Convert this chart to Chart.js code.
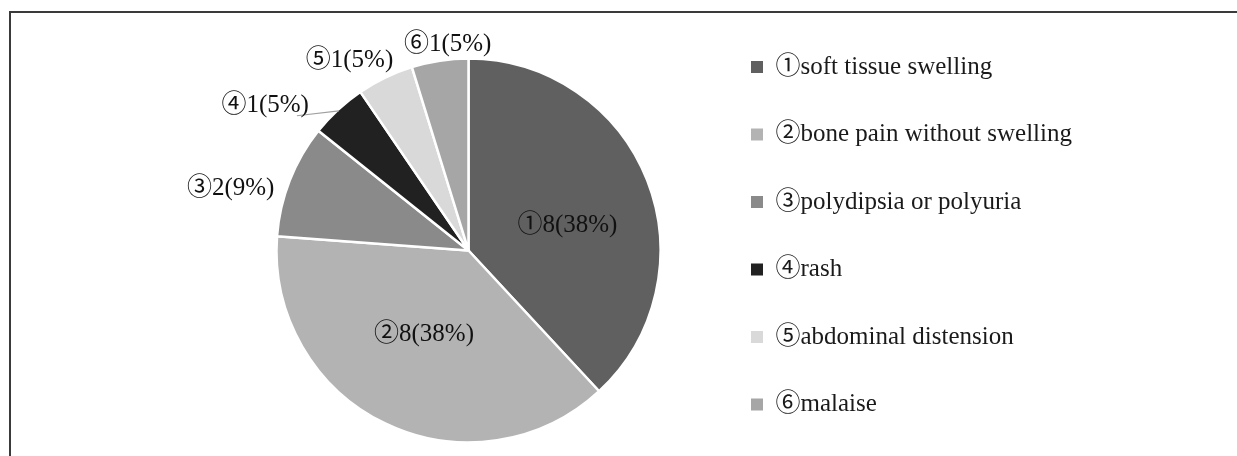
<!DOCTYPE html>
<html><head><meta charset="utf-8">
<script src="https://cdn.jsdelivr.net/npm/chart.js@4.4.0/dist/chart.umd.min.js"></script>
<style>
html,body{margin:0;padding:0;background:#fff;overflow:hidden;width:1237px;height:456px;}
#frame{position:absolute;left:9px;top:11px;width:1300px;height:520px;border-left:2px solid #3a3a3a;border-top:2px solid #3a3a3a;box-sizing:border-box;}
#wrap{position:absolute;left:0;top:0;width:1237px;height:489px;}
</style></head><body>
<div id="frame"></div>
<div id="wrap"><canvas id="c"></canvas></div>
<script>
// ---- data ----
const markers = ['①','②','③','④','⑤','⑥'];
const categories = ['soft tissue swelling','bone pain without swelling','polydipsia or polyuria','rash','abdominal distension','malaise'];
const counts = [8, 8, 2, 1, 1, 1];
const percents = [38, 38, 9, 5, 5, 5];

// ---- styles ----
const sliceColors = ['#606060','#b3b3b3','#8a8a8a','#212121','#d9d9d9','#a6a6a6'];
const FONT_FAMILY = '"Liberation Serif", "Noto Sans CJK SC", serif';
const FONT_SIZE = 25;
const LEGEND_PAD = 42.5;
const BOX = 12;

const legendLabels = categories.map((c, i) => markers[i] + c);
const dataLabels = counts.map((v, i) => markers[i] + v + '(' + percents[i] + '%)');

// label placement relative to each slice (radius factor, angle offset in degrees)
const placement = [
  {r: 0.532, a: 7.0},
  {r: 0.497, a: 2.1},
  {r: 1.281, a: -6.7},
  {r: 1.300, a: -11.7, leader: true},
  {r: 1.166, a: -6.4},
  {r: 1.081, a: 2.8}
];

// measure legend text to position the legend box
const mctx = document.createElement('canvas').getContext('2d');
mctx.font = FONT_SIZE + 'px ' + FONT_FAMILY;
const maxTextW = Math.max(...legendLabels.map(t => mctx.measureText(t).width));
const legendW = LEGEND_PAD + BOX + FONT_SIZE / 2 + maxTextW + 10;
const legendLeft = 708.5;
const padRight = 1237 - legendLeft - legendW;
const centerX = 468.5;
const padLeft = 2 * centerX - legendLeft;

const labelPlugin = {
  id: 'sliceLabels',
  afterDatasetsDraw(chart) {
    const ctx = chart.ctx;
    const meta = chart.getDatasetMeta(0);
    ctx.save();
    ctx.font = FONT_SIZE + 'px ' + FONT_FAMILY;
    ctx.fillStyle = '#111';
    ctx.textAlign = 'center';
    ctx.textBaseline = 'middle';
    meta.data.forEach((arc, i) => {
      const p = arc.getProps(['x','y','startAngle','endAngle','outerRadius'], true);
      const pl = placement[i];
      const midTrue = (p.startAngle + p.endAngle) / 2;
      const mid = midTrue + pl.a * Math.PI / 180;
      const r = p.outerRadius * pl.r;
      const lx = p.x + Math.cos(mid) * r;
      const ly = p.y + Math.sin(mid) * r;
      const txt = dataLabels[i];
      const w = ctx.measureText(txt).width;
      if (pl.leader) {
        const vr = p.outerRadius - 1.5;
        ctx.beginPath();
        ctx.strokeStyle = '#a0a0a0';
        ctx.lineWidth = 1.2;
        ctx.moveTo(p.x + Math.cos(midTrue) * vr, p.y + Math.sin(midTrue) * vr);
        ctx.lineTo(lx + w / 2 - 12, ly + 10);
        ctx.stroke();
      }
      ctx.fillText(txt, lx, ly);
    });
    ctx.restore();
  }
};

new Chart(document.getElementById('c'), {
  type: 'pie',
  data: {
    labels: legendLabels,
    datasets: [{
      data: counts,
      backgroundColor: sliceColors,
      borderColor: '#ffffff',
      borderWidth: 2.5
    }]
  },
  options: {
    responsive: true,
    maintainAspectRatio: false,
    animation: false,
    events: [],
    radius: 192,
    layout: {padding: {left: padLeft, right: padRight, top: 12, bottom: 0}},
    plugins: {
      tooltip: {enabled: false},
      legend: {
        position: 'right',
        align: 'start',
        labels: {
          boxWidth: BOX,
          boxHeight: BOX,
          padding: LEGEND_PAD,
          color: '#1a1a1a',
          font: {family: FONT_FAMILY, size: FONT_SIZE},
          generateLabels(chart) {
            const items = Chart.controllers.pie.overrides.plugins.legend.labels.generateLabels(chart);
            items.forEach(it => { it.lineWidth = 0; it.strokeStyle = it.fillStyle; });
            return items;
          }
        }
      }
    }
  },
  plugins: [labelPlugin]
});
</script>
</body></html>
